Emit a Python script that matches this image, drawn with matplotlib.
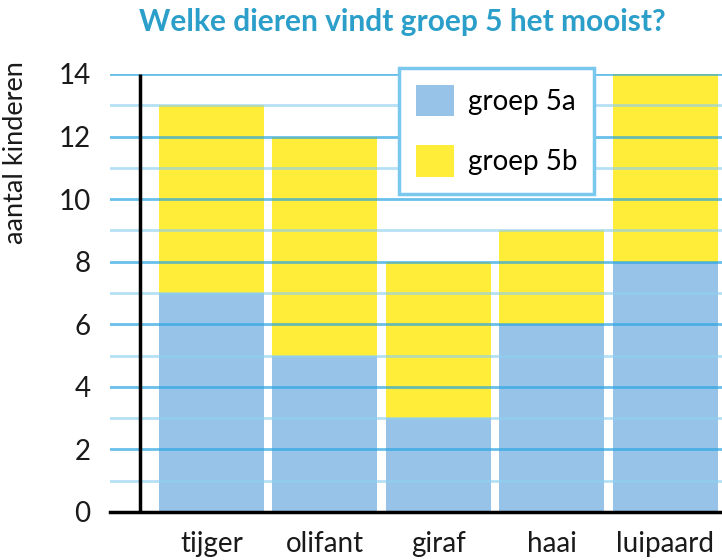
import numpy as np
import matplotlib.pyplot as plt
from matplotlib.patches import Patch

# data
dieren = ["tijger", "olifant", "giraf", "haai", "luipaard"]
groep_5a = [7, 5, 3, 6, 8]
groep_5b = [6, 7, 5, 3, 6]
y_ticks = [0, 2, 4, 6, 8, 10, 12, 14]

plt.rcParams['font.family'] = ['Lato', 'DejaVu Sans']

fig = plt.figure(figsize=(7.22, 5.6), dpi=100)
ax = fig.add_axes([110 / 722, 48 / 560, 612 / 722, 438 / 560])

x = np.arange(len(dieren))
blauw = '#98c3e8'
geel = '#ffed3a'

ax.bar(x, groep_5a, width=0.925, color=blauw, zorder=1)
ax.bar(x, groep_5b, bottom=groep_5a, width=0.925, color=geel, zorder=1)

# rasterlijnen over de staven heen
for v in range(1, 15):
    if v % 2 == 0:
        ax.axhline(v, color='#2aa4e2', lw=2, alpha=0.7, zorder=2)
    else:
        ax.axhline(v, color='#8ed0f0', lw=2, alpha=0.65, zorder=2)

# assen
ax.axhline(0, color='black', lw=2.5, zorder=3, clip_on=False)
ax.plot([-0.63, -0.63], [0, 14], color='black', lw=2.5, zorder=3,
        solid_capstyle='butt', clip_on=False)

ax.set_xlim(-0.894, 4.50)
ax.set_ylim(0, 14)
ax.set_yticks(y_ticks)
ax.set_xticks(x)
ax.set_xticklabels(dieren)
ax.tick_params(axis='both', length=0, labelsize=20, colors='#1a1a1a')
ax.tick_params(axis='y', pad=14)
ax.tick_params(axis='x', pad=14)
for s in ax.spines.values():
    s.set_visible(False)

fig.text(402 / 722, 1 - 22 / 560, 'Welke dieren vindt groep 5 het mooist?',
         ha='center', va='center', fontsize=21.5, fontweight='bold',
         color='#2b9fc9')
fig.text(16 / 722, 1 - 153 / 560, 'aantal kinderen', rotation=90,
         ha='center', va='center', fontsize=19.5, color='#1a1a1a')

handles = [Patch(facecolor=blauw, label='groep 5a'),
           Patch(facecolor=geel, label='groep 5b')]
leg = ax.legend(handles=handles, loc='upper left',
                bbox_to_anchor=(399 / 722, 1 - 68 / 560),
                bbox_transform=fig.transFigure, borderaxespad=0,
                fontsize=20, frameon=True, fancybox=False,
                handlelength=1.37, handleheight=1.37, handletextpad=0.5,
                labelspacing=1.05, borderpad=0.6)
leg.get_frame().set_edgecolor('#7ac8ee')
leg.get_frame().set_linewidth(2.5)
leg.get_frame().set_alpha(1)
leg.set_zorder(5)

fig.savefig('out.png', dpi=100)
